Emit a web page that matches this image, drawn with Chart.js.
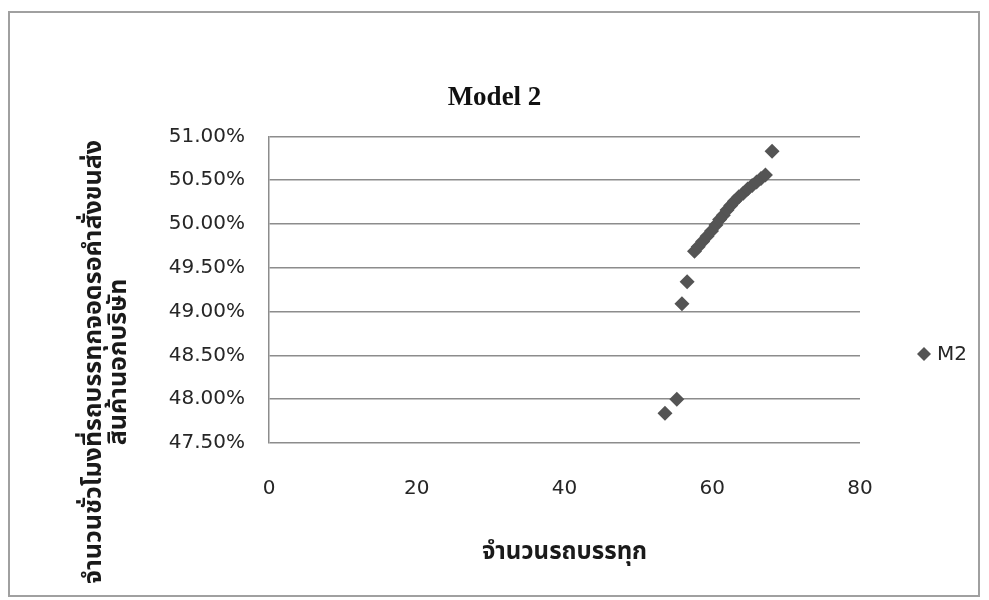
<!DOCTYPE html>
<html>
<head>
<meta charset="utf-8">
<script src="https://cdn.jsdelivr.net/npm/chart.js@4/dist/chart.umd.min.js"></script>
<style>
  html, body { margin: 0; padding: 0; background: #fff; }
  #wrap { width: 989px; height: 600px; position: relative; }
</style>
</head>
<body>
<div id="wrap"><canvas id="c" width="989" height="600"></canvas></div>
<script>
// ---- data ----
const chartTitle = "Model 2";
const seriesName = "M2";
const xAxisTitle = "จำนวนรถบรรทุก";
const yAxisTitleLines = ["จำนวนชั่วโมงที่รถบรรทุกจอดรอคำสั่งขนส่ง", "สินค้านอกบริษัท"];
const trucks = [53.6, 55.2, 55.9, 56.6, 57.6, 58.1, 58.7, 59.3, 59.9, 60.5, 61.0, 61.5, 62.0, 62.5, 63.0, 63.6, 64.2, 64.8, 65.4, 66.0, 66.6, 67.2, 68.1];
const hoursPct = [47.84, 48.00, 49.09, 49.34, 49.69, 49.74, 49.80, 49.86, 49.92, 49.99, 50.05, 50.10, 50.16, 50.21, 50.26, 50.31, 50.35, 50.40, 50.44, 50.48, 50.52, 50.56, 50.83];
const xTicks = [0, 20, 40, 60, 80];
const yTicks = [47.5, 48.0, 48.5, 49.0, 49.5, 50.0, 50.5, 51.0];

const thaiFont = "'Noto Sans Thai', 'Noto Sans Thai UI', Loma, Garuda, Tahoma, 'DejaVu Sans', sans-serif";
const tickFont = "'DejaVu Sans', sans-serif";
const markColor = '#545454';

const points = trucks.map((x, i) => ({ x: x, y: hoursPct[i] }));

const decor = {
  id: 'decor',
  beforeDraw(chart) {
    const ctx = chart.ctx;
    ctx.save();
    ctx.fillStyle = '#fff';
    ctx.fillRect(0, 0, chart.width, chart.height);
    ctx.strokeStyle = '#a0a0a0';
    ctx.lineWidth = 2;
    ctx.strokeRect(9, 12, 970, 584);
    ctx.restore();
  },
  afterDraw(chart) {
    const ctx = chart.ctx;
    ctx.save();
    // y axis title (two rotated lines)
    ctx.fillStyle = '#1a1a1a';
    ctx.font = "bold 25px " + thaiFont;
    ctx.textAlign = 'center';
    ctx.textBaseline = 'middle';
    ctx.translate(96, 362);
    ctx.rotate(-Math.PI / 2);
    ctx.fillText(yAxisTitleLines[0], 0, 0);
    ctx.fillText(yAxisTitleLines[1], 0, 25);
    ctx.restore();
    // legend
    ctx.save();
    const lx = 924, ly = 354, r = 7;
    ctx.fillStyle = markColor;
    ctx.beginPath();
    ctx.moveTo(lx, ly - r); ctx.lineTo(lx + r, ly); ctx.lineTo(lx, ly + r); ctx.lineTo(lx - r, ly);
    ctx.closePath(); ctx.fill();
    ctx.fillStyle = '#262626';
    ctx.font = "20px " + tickFont;
    ctx.textAlign = 'left';
    ctx.textBaseline = 'middle';
    ctx.fillText(seriesName, 937, ly + 1);
    ctx.restore();
  }
};

new Chart(document.getElementById('c'), {
  type: 'scatter',
  data: {
    datasets: [{
      label: seriesName,
      data: points,
      pointStyle: 'rectRot',
      pointRadius: 7.5,
      pointHoverRadius: 7.5,
      backgroundColor: markColor,
      borderColor: markColor,
      borderWidth: 0
    }]
  },
  options: {
    responsive: false,
    animation: false,
    layout: { padding: 0 },
    plugins: {
      legend: { display: false },
      tooltip: { enabled: false },
      title: {
        display: true,
        text: chartTitle,
        color: '#111',
        font: { family: "'Liberation Serif', 'Times New Roman', serif", size: 27, weight: 'bold' },
        padding: { top: 82, bottom: 22 }
      }
    },
    scales: {
      x: {
        type: 'linear',
        min: 0, max: 80,
        afterBuildTicks(scale) { scale.ticks = xTicks.map(v => ({ value: v })); },
        afterFit(scale) { scale.height = 157; },
        grid: { display: false, drawTicks: false },
        border: { display: false },
        ticks: { padding: 34, color: '#262626', font: { family: tickFont, size: 20 } },
        title: {
          display: true,
          text: xAxisTitle,
          color: '#1a1a1a',
          font: { family: thaiFont, size: 24, weight: 'bold' },
          padding: { top: 0, bottom: 31 }
        }
      },
      y: {
        type: 'linear',
        position: 'left',
        min: 47.5, max: 51,
        afterBuildTicks(scale) { scale.ticks = yTicks.map(v => ({ value: v })); },
        afterFit(scale) { scale.width = 269; },
        grid: { color: '#8c8c8c', lineWidth: 1.5, drawTicks: false },
        border: { display: true, color: '#8c8c8c', width: 1.5 },
        ticks: {
          padding: 24,
          color: '#262626',
          font: { family: tickFont, size: 20 },
          callback: v => Number(v).toFixed(2) + '%'
        }
      },
      legendSpace: {
        type: 'linear',
        position: 'right',
        min: 0, max: 1,
        afterFit(scale) { scale.width = 129; },
        grid: { display: false, drawTicks: false },
        border: { display: false },
        ticks: { display: false }
      }
    }
  },
  plugins: [decor]
});
</script>
</body>
</html>
